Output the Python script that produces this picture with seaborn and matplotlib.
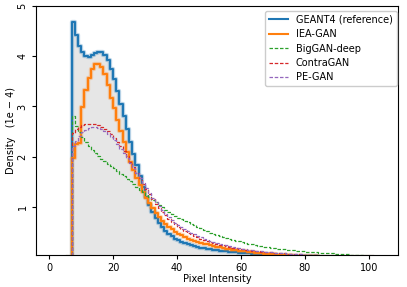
import numpy as np
import pandas as pd
import matplotlib
matplotlib.use("Agg")
import matplotlib.pyplot as plt
import seaborn as sns

# Pixel-intensity bins (left edges), unit-width bins
intensity = list(range(7, 101))

geant4 = [4.69, 4.42, 4.21, 4.09, 4.00, 3.98, 4.02, 4.07, 4.09, 4.08,
          4.03, 3.92, 3.74, 3.54, 3.30, 3.04, 2.80, 2.56, 2.30, 2.05,
          1.83, 1.61, 1.40, 1.20, 1.04, 0.90, 0.78, 0.68, 0.59, 0.52,
          0.46, 0.41, 0.37, 0.34, 0.31, 0.28, 0.26, 0.24, 0.22, 0.205,
          0.19, 0.178, 0.166, 0.155, 0.145, 0.135, 0.127, 0.12, 0.113, 0.106,
          0.10, 0.094, 0.088, 0.083, 0.078, 0.073, 0.068, 0.064, 0.06, 0.056,
          0.052, 0.049, 0.046, 0.043, 0.040, 0.037, 0.034, 0.031, 0.029, 0.027,
          0.025, 0.023, 0.021, 0.019, 0.017, 0.015, 0.013, 0.011, 0.010, 0.009,
          0.008, 0.007, 0.006, 0.005, 0.004, 0.003, 0.002, 0.002, 0.001, 0.001,
          0.001, 0.0, 0.0, 0.0]

iea_gan = [1.98, 2.25, 2.28, 2.98, 3.32, 3.57, 3.74, 3.84, 3.85, 3.79,
           3.64, 3.42, 3.17, 2.97, 2.74, 2.52, 2.30, 2.10, 1.90, 1.73,
           1.57, 1.43, 1.30, 1.18, 1.07, 0.97, 0.88, 0.80, 0.72, 0.66,
           0.60, 0.55, 0.50, 0.46, 0.43, 0.40, 0.37, 0.35, 0.33, 0.31,
           0.29, 0.27, 0.255, 0.24, 0.225, 0.21, 0.195, 0.18, 0.17, 0.16,
           0.15, 0.14, 0.13, 0.12, 0.112, 0.104, 0.096, 0.089, 0.082, 0.075,
           0.069, 0.063, 0.058, 0.053, 0.048, 0.044, 0.04, 0.036, 0.033, 0.03,
           0.027, 0.024, 0.021, 0.019, 0.017, 0.015, 0.013, 0.011, 0.010, 0.009,
           0.008, 0.007, 0.006, 0.005, 0.004, 0.003, 0.002, 0.002, 0.001, 0.001,
           0.001, 0.0, 0.0, 0.0]

biggan_deep = [2.80, 2.62, 2.50, 2.40, 2.30, 2.22, 2.14, 2.07, 2.01, 1.96,
               1.91, 1.86, 1.82, 1.77, 1.72, 1.66, 1.61, 1.56, 1.51, 1.46,
               1.40, 1.34, 1.29, 1.24, 1.19, 1.14, 1.09, 1.04, 0.99, 0.94,
               0.90, 0.86, 0.82, 0.78, 0.75, 0.72, 0.69, 0.66, 0.63, 0.60,
               0.57, 0.54, 0.51, 0.48, 0.46, 0.44, 0.42, 0.40, 0.38, 0.36,
               0.345, 0.33, 0.315, 0.30, 0.285, 0.27, 0.255, 0.24, 0.23, 0.22,
               0.21, 0.20, 0.19, 0.18, 0.17, 0.162, 0.155, 0.148, 0.141, 0.135,
               0.129, 0.123, 0.117, 0.111, 0.106, 0.101, 0.096, 0.091, 0.086, 0.082,
               0.078, 0.074, 0.07, 0.066, 0.062, 0.058, 0.054, 0.05, 0.045, 0.04,
               0.035, 0.03, 0.025, 0.02]

contragan = [2.48, 2.55, 2.60, 2.63, 2.65, 2.66, 2.66, 2.65, 2.63, 2.60,
             2.56, 2.51, 2.45, 2.38, 2.30, 2.21, 2.11, 2.01, 1.90, 1.79,
             1.68, 1.57, 1.46, 1.35, 1.25, 1.15, 1.06, 0.98, 0.90, 0.83,
             0.76, 0.70, 0.65, 0.60, 0.56, 0.52, 0.48, 0.45, 0.42, 0.39,
             0.36, 0.34, 0.32, 0.30, 0.28, 0.265, 0.25, 0.235, 0.22, 0.205,
             0.19, 0.18, 0.17, 0.16, 0.15, 0.14, 0.13, 0.125, 0.12, 0.11,
             0.105, 0.10, 0.095, 0.09, 0.085, 0.08, 0.075, 0.07, 0.065, 0.06,
             0.057, 0.054, 0.05, 0.047, 0.043, 0.039, 0.035, 0.031, 0.027, 0.024,
             0.021, 0.018, 0.015, 0.012, 0.010, 0.008, 0.006, 0.005, 0.004, 0.003,
             0.002, 0.001, 0.0, 0.0]

pe_gan = [2.22, 2.32, 2.42, 2.49, 2.54, 2.58, 2.60, 2.60, 2.58, 2.55,
          2.51, 2.46, 2.40, 2.33, 2.25, 2.16, 2.07, 1.97, 1.87, 1.77,
          1.67, 1.57, 1.47, 1.37, 1.27, 1.18, 1.09, 1.01, 0.93, 0.86,
          0.80, 0.74, 0.68, 0.63, 0.59, 0.55, 0.51, 0.48, 0.45, 0.42,
          0.39, 0.36, 0.34, 0.32, 0.30, 0.28, 0.265, 0.25, 0.235, 0.22,
          0.205, 0.19, 0.18, 0.17, 0.16, 0.15, 0.14, 0.13, 0.12, 0.115,
          0.11, 0.10, 0.095, 0.09, 0.085, 0.08, 0.075, 0.07, 0.065, 0.06,
          0.056, 0.052, 0.048, 0.044, 0.04, 0.036, 0.032, 0.028, 0.025, 0.022,
          0.019, 0.016, 0.013, 0.011, 0.009, 0.007, 0.005, 0.004, 0.003, 0.002,
          0.001, 0.001, 0.0, 0.0]

labels = ["GEANT4 (reference)", "IEA-GAN", "BigGAN-deep", "ContraGAN", "PE-GAN"]
colors = ["#1f77b4", "#ff7f0e", "#2ca02c", "#d62728", "#9467bd"]

plt.rcParams["font.family"] = ["DejaVu Sans"]
plt.rcParams["font.size"] = 7

# add an empty leading bin so the step outline rises from the baseline at x=7
x_vals = [intensity[0] - 1] + intensity
brange = (x_vals[0], x_vals[-1] + 1)

fig = plt.figure(figsize=(4.07, 2.87), dpi=100)
ax = fig.add_axes([0.0885, 0.113, 0.8895, 0.866])

def series(vals):
    return pd.DataFrame({"x": [float(v) + 0.5 for v in x_vals], "w": [0.0] + list(vals)})

# gray filled area under GEANT4
sns.histplot(data=series(geant4), x="x", weights="w", binwidth=1, binrange=brange,
             element="step", fill=True, color="#e6e6e6", alpha=1.0, linewidth=0, ax=ax)

dash = (0, (2.8, 1.4))
specs = [
    (geant4, colors[0], "-", 1.5, True),
    (iea_gan, colors[1], "-", 1.5, True),
    (biggan_deep, colors[2], dash, 0.9, False),
    (contragan, colors[3], dash, 0.9, False),
    (pe_gan, colors[4], dash, 0.9, False),
]
handles = []
for (vals, c, ls, lw, halo), lab in zip(specs, labels):
    if halo:
        sns.histplot(data=series(vals), x="x", weights="w", binwidth=1, binrange=brange,
                     element="step", fill=False, color=c, alpha=0.3, linewidth=lw + 1.6, ax=ax)
    sns.histplot(data=series(vals), x="x", weights="w", binwidth=1, binrange=brange,
                 element="step", fill=False, color=c, linewidth=lw, linestyle=ls, ax=ax)
    handles.append(plt.Line2D([], [], color=c, linestyle=ls, linewidth=lw, label=lab))

ax.set_xlim(-4.1, 109.1)
ax.set_ylim(0.05, 5.0)
ax.set_xticks([0, 20, 40, 60, 80, 100])
ax.set_yticks([1, 2, 3, 4, 5])
ax.tick_params(axis="both", length=2.7, pad=3.4)
ax.tick_params(axis="y", labelrotation=90)
for t in ax.get_yticklabels():
    t.set_va("center")
ax.set_xlabel("Pixel Intensity")
ax.set_ylabel("Density   (1e \u2212 4)")
ax.xaxis.set_label_coords(0.5, -0.08)
ax.yaxis.set_label_coords(-0.056, 0.5)

ax.legend(handles=handles, loc="upper right", bbox_to_anchor=(0.996, 0.98),
          borderaxespad=0, fontsize=7, labelspacing=0.45,
          framealpha=1.0, edgecolor="#cccccc", fancybox=True)

fig.savefig("out.png", dpi=100)
